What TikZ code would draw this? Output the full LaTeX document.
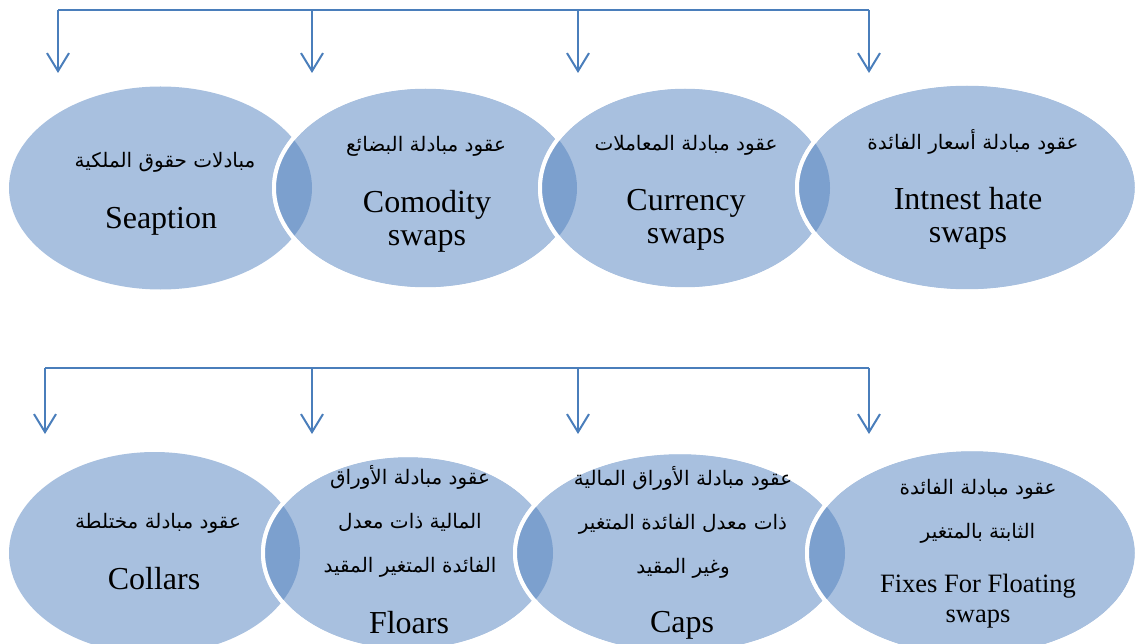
\documentclass[tikz,border=0pt]{standalone}
\usepackage{fontspec}
\setmainfont{Liberation Serif}
\newfontfamily\arabicfont[Script=Arabic]{DejaVu Sans}
\TeXXeTstate=1
\usetikzlibrary{arrows.meta}
\definecolor{lightfill}{HTML}{A8C0DF}
\definecolor{darkfill}{HTML}{7CA0CE}
\definecolor{arrowblue}{HTML}{4A7EBB}
\tikzset{
  bus/.style={draw=arrowblue, line width=2pt},
  branch/.style={draw=arrowblue, line width=2pt, -{Straight Barb[length=18pt,width=22pt,line width=2pt]}},
  ellfill/.style={fill=lightfill},
  rim/.style={draw=white, line width=4pt},
  lensfill/.style={fill=darkfill},
  artext/.style={font=\arabicfont\fontsize{20}{44}\selectfont, inner sep=0pt, align=center},
  entext/.style={font=\fontsize{32}{33}\selectfont, inner sep=0pt, align=center},
  ensmall/.style={font=\fontsize{26.5}{30}\selectfont, inner sep=0pt, align=center},
}
\begin{document}
\begin{tikzpicture}[x=1pt,y=-1pt]
\useasboundingbox (0,0) rectangle (1137,644);

% ---------- top row ellipses ----------
\path[ellfill] (160.5,188) ellipse [x radius=151.5pt, y radius=101.5pt];
\path[ellfill,rim] (425.5,188) ellipse [x radius=151.5pt, y radius=101.5pt];
\begin{scope}
  \clip (160.5,188) ellipse [x radius=151.5pt, y radius=101.5pt];
  \path[lensfill] (425.5,188) ellipse [x radius=151.5pt, y radius=101.5pt];
\end{scope}
\path[rim] (425.5,188) ellipse [x radius=151.5pt, y radius=101.5pt];

\path[ellfill,rim] (685,188) ellipse [x radius=145pt, y radius=101.5pt];
\begin{scope}
  \clip (425.5,188) ellipse [x radius=151.5pt, y radius=101.5pt];
  \path[lensfill] (685,188) ellipse [x radius=145pt, y radius=101.5pt];
\end{scope}
\path[rim] (685,188) ellipse [x radius=145pt, y radius=101.5pt];

\path[ellfill,rim] (967,187.5) ellipse [x radius=170pt, y radius=104pt];
\begin{scope}
  \clip (685,188) ellipse [x radius=145pt, y radius=101.5pt];
  \path[lensfill] (967,187.5) ellipse [x radius=170pt, y radius=104pt];
\end{scope}
\path[rim] (967,187.5) ellipse [x radius=170pt, y radius=104pt];

% ---------- bottom row ellipses ----------
\path[ellfill] (154.5,553) ellipse [x radius=145.5pt, y radius=101pt];
\path[ellfill,rim] (408,553) ellipse [x radius=145pt, y radius=98pt];
\begin{scope}
  \clip (154.5,553) ellipse [x radius=145.5pt, y radius=101pt];
  \path[lensfill] (408,553) ellipse [x radius=145pt, y radius=98pt];
\end{scope}
\path[rim] (408,553) ellipse [x radius=145pt, y radius=98pt];

\path[ellfill,rim] (680,553) ellipse [x radius=165pt, y radius=101pt];
\begin{scope}
  \clip (408,553) ellipse [x radius=145pt, y radius=98pt];
  \path[lensfill] (680,553) ellipse [x radius=165pt, y radius=101pt];
\end{scope}
\path[rim] (680,553) ellipse [x radius=165pt, y radius=101pt];

\path[ellfill,rim] (972,553) ellipse [x radius=165pt, y radius=104pt];
\begin{scope}
  \clip (680,553) ellipse [x radius=165pt, y radius=101pt];
  \path[lensfill] (972,553) ellipse [x radius=165pt, y radius=104pt];
\end{scope}
\path[rim] (972,553) ellipse [x radius=165pt, y radius=104pt];

% ---------- texts ----------
\node[artext] (a1) at (165,162) {\beginR مبادلات حقوق الملكية\endR};
\node[entext] (b1) at (161,221) {Seaption};

\node[artext] (a2) at (426,146) {\beginR عقود مبادلة البضائع\endR};
\node[entext] (b2) at (427,221) {Comodity\\swaps};

\node[artext] (a3) at (686,145) {\beginR عقود مبادلة المعاملات\endR};
\node[entext] (b3) at (686,220) {Currency\\swaps};

\node[artext] (a4) at (973,142) {\beginR عقود مبادلة أسعار الفائدة\endR};
\node[entext] (b4) at (968,218) {Intnest hate\\swaps};

\node[artext] (a5) at (158,523) {\beginR عقود مبادلة مختلطة\endR};
\node[entext] (b5) at (154,579) {Collars};

\node[artext] (a6) at (410,521) {\beginR عقود مبادلة الأوراق\endR\\\beginR المالية ذات معدل\endR\\\beginR الفائدة المتغير المقيد\endR};
\node[entext] (b6) at (409,623) {Floars};

\node[artext] (a7) at (683,522) {\beginR عقود مبادلة الأوراق المالية\endR\\\beginR ذات معدل الفائدة المتغير\endR\\\beginR وغير المقيد\endR};
\node[entext] (b7) at (682,625) {Caps};

\node[artext] (a8) at (978,511) {\beginR عقود مبادلة  الفائدة\endR\\\beginR الثابتة بالمتغير\endR};
\node[ensmall] (b8) at (978,601) {Fixes For Floating\\swaps};

% ---------- connectors ----------
\coordinate (ts1) at (58,10);
\coordinate (ts2) at (312,10);
\coordinate (ts3) at (578,10);
\coordinate (ts4) at (869,10);
\coordinate (tt1) at (58,73);
\coordinate (tt2) at (312,73);
\coordinate (tt3) at (578,73);
\coordinate (tt4) at (869,73);
\path[bus] (ts1) -- (ts4);
\foreach \i in {1,...,4} {\path[branch] (ts\i) -- (tt\i);}

\coordinate (bs1) at (45,368);
\coordinate (bs2) at (312,368);
\coordinate (bs3) at (578,368);
\coordinate (bs4) at (869,368);
\coordinate (bt1) at (45,434);
\coordinate (bt2) at (312,434);
\coordinate (bt3) at (578,434);
\coordinate (bt4) at (869,434);
\path[bus] (bs1) -- (bs4);
\foreach \i in {1,...,4} {\path[branch] (bs\i) -- (bt\i);}
\end{tikzpicture}
\end{document}
